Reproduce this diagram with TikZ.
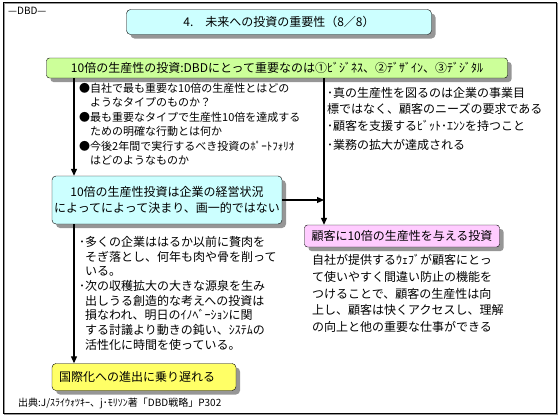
\documentclass[tikz,border=0pt]{standalone}
\usepackage{fontspec}
\setmainfont{Noto Sans CJK JP}
\usetikzlibrary{arrows.meta,shadows}
\definecolor{dbdsky}{RGB}{204,255,255}
\definecolor{dbdlime}{RGB}{204,255,153}
\definecolor{dbdpink}{RGB}{255,204,255}
\definecolor{dbdlemon}{RGB}{255,255,102}
\definecolor{dbdshade}{RGB}{150,150,150}

\begin{document}
\begin{tikzpicture}[x=1pt,y=-1pt,
  font=\fontsize{11}{14.5}\selectfont,
  card/.style={draw=black,rounded corners=4pt,align=center,inner sep=2pt,
    drop shadow={shadow xshift=4pt,shadow yshift=-4pt,fill=dbdshade,opacity=1}},
  memo/.style={anchor=north west,align=left,inner sep=0pt},
  flow/.style={line width=1.2pt,-{Triangle[length=7pt,width=6pt]}},
  trunk/.style={line width=1.2pt}]
\useasboundingbox (0,0) rectangle (560,416);

% ================= FRAME & HEADER =================
\draw[dbdshade,line width=1pt] (4,3) rectangle (557,414);
\draw[black,line width=0.6pt] (3,2) rectangle (556,413);
\node[anchor=west,inner sep=0pt,font=\fontsize{10}{12}\selectfont] (tag) at (8,11) {—DBD—};
\node[card,fill=dbdsky,minimum width=305,minimum height=25,font=\fontsize{12}{14}\selectfont]
  (title) at (279,22) {4.　未来への投資の重要性（8／8）};

% ================= TOP BAR =================
\node[card,fill=dbdlime,rounded corners=3pt,minimum width=461,minimum height=20,font=\fontsize{12}{14}\selectfont]
  (bar) at (277,68) {10倍の生産性の投資:DBDにとって重要なのは①ﾋﾞｼﾞﾈｽ、②ﾃﾞｻﾞｲﾝ、③ﾃﾞｼﾞﾀﾙ};
\coordinate (lrail) at (74,0);
\coordinate (rrail) at (324,0);

% left questions
\node[memo] (asks) at (79,83) {●自社で最も重要な10倍の生産性とはどの\\
  \phantom{●}ようなタイプのものか？\\
  ●最も重要なタイプで生産性10倍を達成する\\
  \phantom{●}ための明確な行動とは何か\\
  ●今後2年間で実行するべき投資のﾎﾟｰﾄﾌｫﾘｵ\\
  \phantom{●}はどのようなものか};

% right notes
\node[memo,font=\fontsize{12}{16.5}\selectfont] (truth) at (327,87) {･真の生産性を図るのは企業の事業目\\
  標ではなく、顧客のニーズの要求である\\
  ･顧客を支援するﾋﾞｯﾄ･ｴﾝﾝを持つこと};
\node[memo,font=\fontsize{12}{16.5}\selectfont] (grow) at (327,139) {･業務の拡大が達成される};

% ================= MIDDLE =================
\node[card,fill=dbdsky,minimum width=230,minimum height=48,font=\fontsize{12}{16}\selectfont]
  (varies) at (167,200) {10倍の生産性投資は企業の経営状況\\によってによって決まり、画一的ではない};
\node[card,fill=dbdpink,rounded corners=3pt,minimum width=195,minimum height=22,font=\fontsize{12}{14}\selectfont]
  (client) at (402,236) {顧客に10倍の生産性を与える投資};

\draw[flow] (bar.south -| lrail) -- (varies.north -| lrail);
\draw[flow] (bar.south -| rrail) -- (client.north -| rrail);
\draw[flow] (varies.east) -- (varies.east -| rrail);

% pink notes
\node[memo,font=\fontsize{12}{16.8}\selectfont] (web) at (312,254) {自社が提供するｳｪﾌﾞが顧客にとっ\\
  て使いやすく間違い防止の機能を\\
  つけることで、顧客の生産性は向\\
  上し、顧客は快くアクセスし、理解\\
  の向上と他の重要な仕事ができる};

% ================= BOTTOM =================
\node[memo,font=\fontsize{12}{14.7}\selectfont] (trim) at (79,236) {･多くの企業ははるか以前に贅肉を\\
  \phantom{･}そぎ落とし、何年も肉や骨を削って\\
  \phantom{･}いる。\\
  ･次の収穫拡大の大きな源泉を生み\\
  \phantom{･}出しうる創造的な考えへの投資は\\
  \phantom{･}損なわれ、明日のｲﾉﾍﾞｰｼｮﾝに関\\
  \phantom{･}する討議より動きの鈍い、ｼｽﾃﾑの\\
  \phantom{･}活性化に時間を使っている。};
\node[card,fill=dbdlemon,minimum width=184,minimum height=27,text width=170,align=left,
  font=\fontsize{12}{14}\selectfont] (late) at (144,377) {国際化への進出に乗り遅れる};
\draw[flow] (varies.south -| lrail) -- (late.north -| lrail);

\node[anchor=west,inner sep=0pt,font=\fontsize{10}{12}\selectfont] (src) at (18,403)
  {出典:J/ｽﾗｲｳｫﾂｷｰ、j･ﾓﾘｿﾝ著「DBD戦略」P302};
\end{tikzpicture}
\end{document}
